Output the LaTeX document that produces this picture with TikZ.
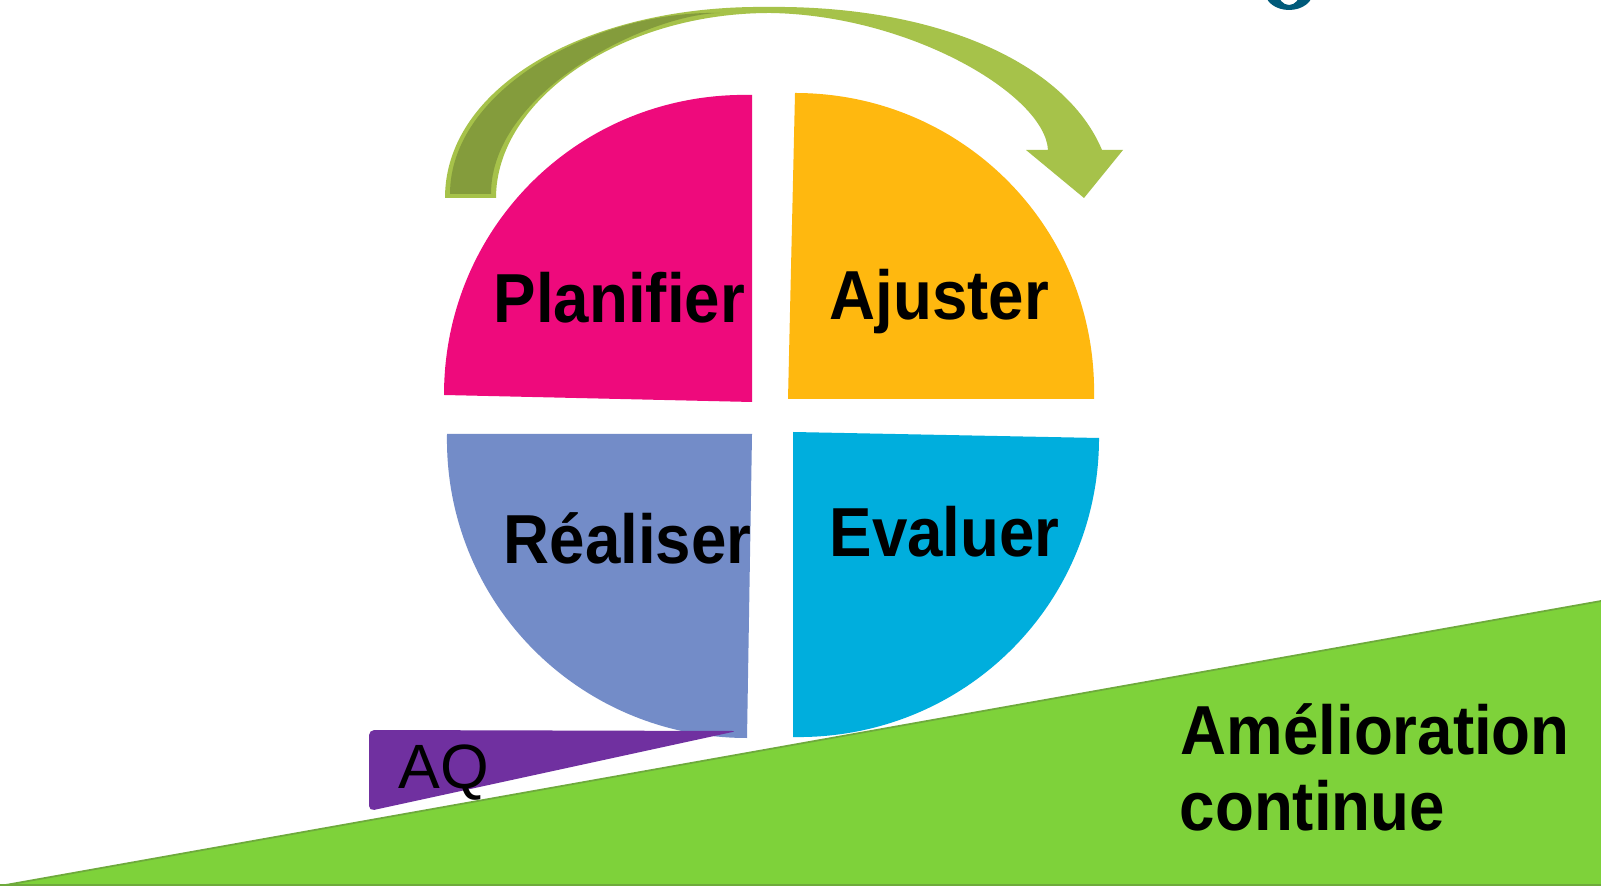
\documentclass[tikz,border=0pt]{standalone}
\usepackage{fontspec}
\setmainfont{Liberation Sans}
\definecolor{planpink}{HTML}{EE0A7C}
\definecolor{ajustyellow}{HTML}{FFB80F}
\definecolor{realblue}{HTML}{738CC8}
\definecolor{evalcyan}{HTML}{00AEDD}
\definecolor{arrowlight}{HTML}{A6C24A}
\definecolor{arrowdark}{HTML}{849C3C}
\definecolor{rampgreen}{HTML}{7ED23A}
\definecolor{rampedge}{HTML}{6EAA3C}
\definecolor{aqpurple}{HTML}{7030A0}
\definecolor{titleteal}{HTML}{005A7A}
\newcommand{\tallword}[1]{\scalebox{1}[1.09]{#1}}

\begin{document}
\begin{tikzpicture}[x=0.01cm,y=-0.01cm,phase/.style={font=\fontsize{18.1}{21}\selectfont\bfseries,anchor=base west,inner sep=0pt},plain text/.style={font=\fontsize{17.8}{21}\selectfont,anchor=base west,inner sep=0pt}]
\clip (0,0) rectangle (1601,886);
\fill[white] (0,0) rectangle (1601,886);

% Corners of the quarters
\coordinate (planC) at (752,402);
\coordinate (planA) at (752,95);
\coordinate (planB) at (444,395);

\coordinate (ajusC) at (788,399);
\coordinate (ajusA) at (795,93);
\coordinate (ajusB) at (1094,399);

\coordinate (realC) at (752,434);
\coordinate (realA) at (447,434);
\coordinate (realB) at (747,738);

\coordinate (evalC) at (793,432);
\coordinate (evalA) at (1099,438);
\coordinate (evalB) at (793,737);

% Draw ramp
\fill[rampgreen] (0,886) -- (1601,601) -- (1601,886) -- cycle;
\draw[rampedge,line width=0.5pt] (0,886) -- (1601,601);
\draw[rampedge,line width=0.6pt] (0,885.5) -- (1601,885.5);

% Draw quarters
\fill[planpink] (planC) -- (planA) .. controls (582,91) and (444,225) .. (planB) -- cycle;
\fill[ajustyellow] (ajusC) -- (ajusA) .. controls (964,93) and (1098,230) .. (ajusB) -- cycle;
\fill[realblue] (realC) -- (realA) .. controls (444,602) and (579,738) .. (realB) -- cycle;
\fill[evalcyan] (evalC) -- (evalA) .. controls (1099,606) and (962,740) .. (evalB) -- cycle;

% Draw arrow
\fill[arrowlight] (445,198) .. controls (445,85) and (590,5) .. (767,7)
  .. controls (935,5) and (1065,62) .. (1102,150) -- (1123,150) -- (1084,198)
  -- (1026,150) -- (1048,150) .. controls (1045,95) and (910,15) .. (770,13)
  .. controls (620,13) and (496,100) .. (496,198) -- cycle;
\fill[arrowdark] (450,194) .. controls (450,90) and (595,10) .. (720,13)
  .. controls (650,14) and (491,90) .. (491,194) -- cycle;

% Draw AQ wedge
\fill[aqpurple,rounded corners=1.5pt] (369,730) -- (737,731) -- (369,811) -- cycle;
\node[plain text] (aq) at (398,788) {AQ};

% Title letter cut by the top edge
\fill[titleteal,even odd rule] (1289,-8) ellipse [x radius=24, y radius=18]
  (1289,-8) ellipse [x radius=11, y radius=13];

% Labels
\node[phase] (planifier) at (493,323) {\tallword{Planifier}};
\node[phase] (ajuster) at (829,320) {\tallword{Ajuster}};
\node[phase] (realiser) at (503,564) {\tallword{Réaliser}};
\node[phase] (evaluer) at (829,557) {\tallword{Evaluer}};
\node[phase] (amelioration) at (1180,754) {\tallword{Amélioration}};
\node[phase] (continue) at (1179,830) {\tallword{continue}};

\end{tikzpicture}
\end{document}
